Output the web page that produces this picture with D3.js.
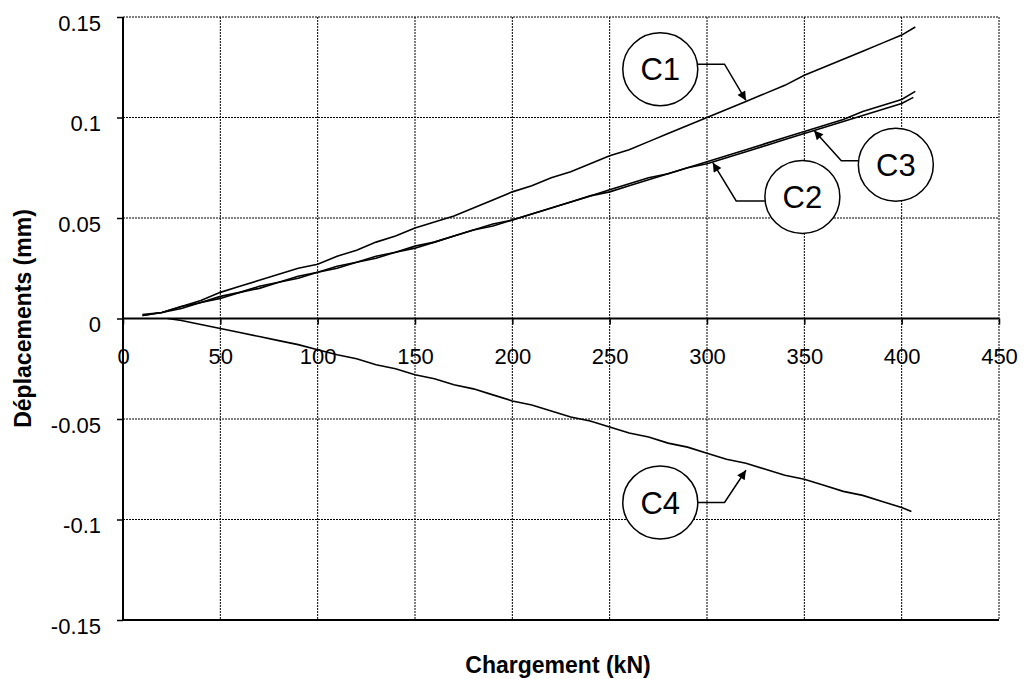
<!DOCTYPE html>
<html>
<head>
<meta charset="utf-8">
<script src="https://cdn.jsdelivr.net/npm/d3@7"></script>
<style>
  body { margin: 0; background: #fff; }
  text { font-family: "Liberation Sans", Arial, sans-serif; }
</style>
</head>
<body>
<div id="chart"></div>
<script>
// charge (kN) and displacement (mm)
var loadC1 = [10, 20, 30, 40, 50, 60, 70, 80, 90, 100, 110, 120, 130, 140, 150, 160, 170, 180, 190, 200,
              210, 220, 230, 240, 250, 260, 270, 280, 290, 300, 310, 320, 330, 340, 350, 360, 370, 380, 390, 400, 407];
var dispC1 = [0.002, 0.003, 0.006, 0.009, 0.013, 0.016, 0.019, 0.022, 0.025, 0.027, 0.031, 0.034, 0.038, 0.041, 0.045,
              0.048, 0.051, 0.055, 0.059, 0.063, 0.066, 0.070, 0.073, 0.077, 0.081, 0.084, 0.088, 0.092, 0.096, 0.100,
              0.104, 0.108, 0.112, 0.116, 0.121, 0.125, 0.129, 0.133, 0.137, 0.141, 0.145];

var loadC2 = [10, 20, 30, 40, 50, 60, 70, 80, 90, 100, 110, 120, 130, 140, 150, 160, 170, 180, 190, 200,
              210, 220, 230, 240, 250, 260, 270, 280, 290, 300, 310, 320, 330, 340, 350, 360, 370, 380, 390, 400, 406];
var dispC2 = [0.0015, 0.003, 0.005, 0.008, 0.010, 0.013, 0.015, 0.018, 0.020, 0.023, 0.025, 0.028, 0.030, 0.033, 0.035,
              0.038, 0.041, 0.044, 0.046, 0.049, 0.052, 0.055, 0.058, 0.061, 0.063, 0.066, 0.069, 0.072, 0.075, 0.077,
              0.080, 0.083, 0.086, 0.089, 0.092, 0.095, 0.098, 0.101, 0.104, 0.107, 0.110];

var loadC3 = [10, 20, 30, 40, 50, 60, 70, 80, 90, 100, 110, 120, 130, 140, 150, 160, 170, 180, 190, 200,
              210, 220, 230, 240, 250, 260, 270, 280, 290, 300, 310, 320, 330, 340, 350, 360, 370, 380, 390, 400, 407];
var dispC3 = [0.0015, 0.003, 0.006, 0.008, 0.011, 0.013, 0.016, 0.018, 0.021, 0.023, 0.026, 0.028, 0.031, 0.033, 0.036,
              0.038, 0.041, 0.044, 0.047, 0.049, 0.052, 0.055, 0.058, 0.061, 0.064, 0.067, 0.070, 0.072, 0.075, 0.078,
              0.081, 0.084, 0.087, 0.090, 0.093, 0.096, 0.099, 0.103, 0.106, 0.109, 0.113];

var loadC4 = [23, 30, 40, 50, 60, 70, 80, 90, 100, 110, 120, 130, 140, 150, 160, 170, 180, 190, 200,
              210, 220, 230, 240, 250, 260, 270, 280, 290, 300, 310, 320, 330, 340, 350, 360, 370, 380, 390, 400, 405];
var dispC4 = [0.000, -0.001, -0.003, -0.005, -0.007, -0.009, -0.011, -0.013, -0.0155, -0.018, -0.020, -0.023, -0.025, -0.028,
              -0.030, -0.033, -0.035, -0.038, -0.041, -0.043, -0.046, -0.049, -0.051, -0.054, -0.057, -0.059, -0.062,
              -0.064, -0.067, -0.070, -0.072, -0.075, -0.078, -0.080, -0.083, -0.086, -0.088, -0.091, -0.094, -0.096];

var xTicks = [0, 50, 100, 150, 200, 250, 300, 350, 400, 450];
var yTicks = [-0.15, -0.1, -0.05, 0, 0.05, 0.1, 0.15];

// callouts: name, arrow tip on curve (kN, mm), label centre (kN, mm), elbow (kN, mm)
var callNames = ["C1", "C2", "C3", "C4"];
var callTip = [[320, 0.1085], [303, 0.0775], [355, 0.0935], [320, -0.0755]];
var callCentre = [[276, 0.124], [349, 0.0605], [397, 0.0765], [276, -0.0915]];
var callElbow = [[309, 0.1265], [315, 0.0585], [369, 0.0785], [309, -0.0915]];

var margin = {top: 17, right: 27, bottom: 59, left: 123};
var width = 1026 - margin.left - margin.right,
    height = 679 - margin.top - margin.bottom;

var svg = d3.select("#chart").append("svg")
    .attr("width", 1026)
    .attr("height", 679)
    .append("g")
    .attr("transform", "translate(" + margin.left + "," + margin.top + ")");

var x = d3.scaleLinear().domain([0, 450]).range([0, width]);
var y = d3.scaleLinear().domain([-0.15, 0.15]).range([height, 0]);

// grid
svg.selectAll(".vgrid").data(xTicks.slice(1)).enter().append("line")
    .attr("x1", function(d) { return x(d); }).attr("x2", function(d) { return x(d); })
    .attr("y1", 0).attr("y2", height)
    .style("stroke", "#000").style("stroke-width", 1).style("stroke-dasharray", "2,1");
svg.selectAll(".hgrid").data(yTicks).enter().append("line")
    .attr("x1", 0).attr("x2", width)
    .attr("y1", function(d) { return y(d); }).attr("y2", function(d) { return y(d); })
    .style("stroke", "#000").style("stroke-width", 1).style("stroke-dasharray", "2,1");

// bottom border
svg.append("line").attr("x1", 0).attr("x2", width).attr("y1", height).attr("y2", height)
    .style("stroke", "#000").style("stroke-width", 2);

// y axis
var yAxis = d3.axisLeft(y).tickValues(yTicks).tickSize(6).tickPadding(16)
    .tickFormat(function(d) { return String(+d.toFixed(2)); });
var gy = svg.append("g").call(yAxis);
gy.select(".domain").remove();
gy.append("line").attr("x1", 0).attr("x2", 0).attr("y1", 0).attr("y2", height)
    .style("stroke", "#000").style("stroke-width", 2);
gy.selectAll(".tick line").style("stroke-width", 1.5);
gy.selectAll("text").attr("dy", "0.6em")
    .style("font-size", "22px").style("fill", "#000");

// x axis on the zero line
var xAxis = d3.axisBottom(x).tickValues(xTicks).tickSize(6).tickPadding(24);
var gx = svg.append("g").attr("transform", "translate(0," + y(0) + ")").call(xAxis);
gx.select(".domain").remove();
gx.append("line").attr("x1", 0).attr("x2", width).attr("y1", 0).attr("y2", 0)
    .style("stroke", "#000").style("stroke-width", 2);
gx.selectAll(".tick line").style("stroke-width", 1.5);
gx.selectAll("text").style("font-size", "22px").style("fill", "#000");

// curves
var line = d3.line()
    .x(function(d) { return x(d[0]); })
    .y(function(d) { return y(d[1]); });

var series = [[loadC1, dispC1], [loadC2, dispC2], [loadC3, dispC3], [loadC4, dispC4]];
series.forEach(function(s) {
    svg.append("path")
        .datum(d3.zip(s[0], s[1]))
        .attr("d", line)
        .style("fill", "none")
        .style("stroke", "#000")
        .style("stroke-width", 1.6);
});

// callouts
svg.append("defs").append("marker")
    .attr("id", "arr").attr("viewBox", "0 0 10 10")
    .attr("refX", 10).attr("refY", 5)
    .attr("markerWidth", 10).attr("markerHeight", 9)
    .attr("markerUnits", "userSpaceOnUse")
    .attr("orient", "auto")
    .append("path").attr("d", "M0,0L10,5L0,10z").style("fill", "#000");

var r = 37.5;
callNames.forEach(function(name, i) {
    var cx = x(callCentre[i][0]), cy = y(callCentre[i][1]);
    var ex = x(callElbow[i][0]), ey = y(callElbow[i][1]);
    var side = ex > cx ? 1 : -1;
    svg.append("path")
        .attr("d", "M" + (cx + side * r) + "," + ey + "L" + ex + "," + ey + "L" + x(callTip[i][0]) + "," + y(callTip[i][1]))
        .style("fill", "none").style("stroke", "#000").style("stroke-width", 1.5)
        .attr("marker-end", "url(#arr)");
    svg.append("ellipse").attr("cx", cx).attr("cy", cy).attr("rx", r).attr("ry", r - 1)
        .style("fill", "#fff").style("stroke", "#000").style("stroke-width", 1.5);
    svg.append("text").attr("x", cx).attr("y", cy)
        .attr("text-anchor", "middle").attr("dy", "0.36em")
        .style("font-size", "31px")
        .text(name);
});

// axis titles
svg.append("text")
    .attr("x", width / 2 - 3).attr("y", 656)
    .attr("text-anchor", "middle")
    .style("font-size", "23px").style("font-weight", "bold")
    .text("Chargement (kN)");

svg.append("text")
    .attr("transform", "translate(" + (-92) + "," + (height / 2) + ")rotate(-90)")
    .attr("text-anchor", "middle")
    .style("font-size", "23px").style("font-weight", "bold")
    .text("Déplacements (mm)");
</script>
</body>
</html>
